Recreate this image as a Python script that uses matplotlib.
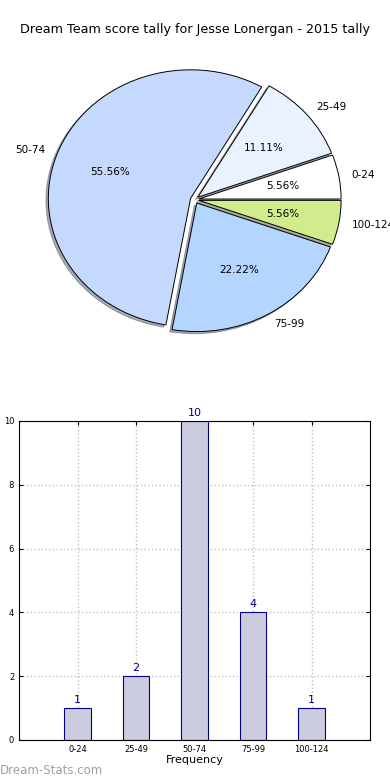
import matplotlib
matplotlib.use('Agg')
import matplotlib.pyplot as plt

# Data
score_ranges = ['0-24', '25-49', '50-74', '75-99', '100-124']
frequency = [1, 2, 10, 4, 1]
pie_colors = ['#ffffff', '#eaf1ff', '#c5d9ff', '#b3d5ff', '#d0ec8c']
explode = [0.03, 0.03, 0.03, 0.03, 0.03]
y_ticks = [0, 2, 4, 6, 8, 10]

TITLE = 'Dream Team score tally for Jesse Lonergan - 2015 tally'

fig = plt.figure(figsize=(3.9, 7.8), dpi=100)

# Pie chart (stretched, not equal aspect, like the original)
ax1 = fig.add_axes([0.043, 0.538, 0.912, 0.412])
wedges, texts, autotexts = ax1.pie(
    frequency, labels=score_ranges, colors=pie_colors, explode=explode,
    autopct='%.2f%%', shadow={'ox': -0.012, 'oy': -0.012, 'shade': 0.6},
    startangle=0, labeldistance=1.09,
    wedgeprops={'edgecolor': 'black', 'linewidth': 0.7},
    textprops={'fontsize': 7.5})
ax1.set_aspect('auto')
ax1.set_xlim(-1.25, 1.25)
ax1.set_ylim(-1.25, 1.25)
ax1.set_title(TITLE, fontsize=9.2, pad=4)

# Bar chart
ax2 = fig.add_axes([0.049, 0.0513, 0.9, 0.4090])
x = list(range(len(score_ranges)))
ax2.bar(x, frequency, width=0.45, color='#ccccdf', edgecolor='#000088',
        linewidth=0.8, zorder=2)
for xi, val in zip(x, frequency):
    ax2.text(xi, val + 0.1, str(val), ha='center', va='bottom',
             fontsize=8, color='#000088')
ax2.set_xlim(-1, 5)
ax2.set_ylim(0, 10)
ax2.set_xticks(x)
ax2.set_xticklabels(score_ranges)
ax2.set_yticks(y_ticks)
ax2.tick_params(labelsize=6, direction='in', length=3, top=True, right=True)
ax2.grid(True, linestyle=':', color='#c0c0c0', linewidth=1, zorder=0)
ax2.set_xlabel('Frequency', fontsize=8, labelpad=1)
ax2.set_ylabel('Score Tally Count', fontsize=7)
ax2.yaxis.set_label_coords(-0.062, 0.5)

fig.text(0.0, 0.012, 'Dream-Stats.com', fontsize=8.5, color='#a0a0a0',
         ha='left', va='center')

plt.savefig('out.png', dpi=100)
